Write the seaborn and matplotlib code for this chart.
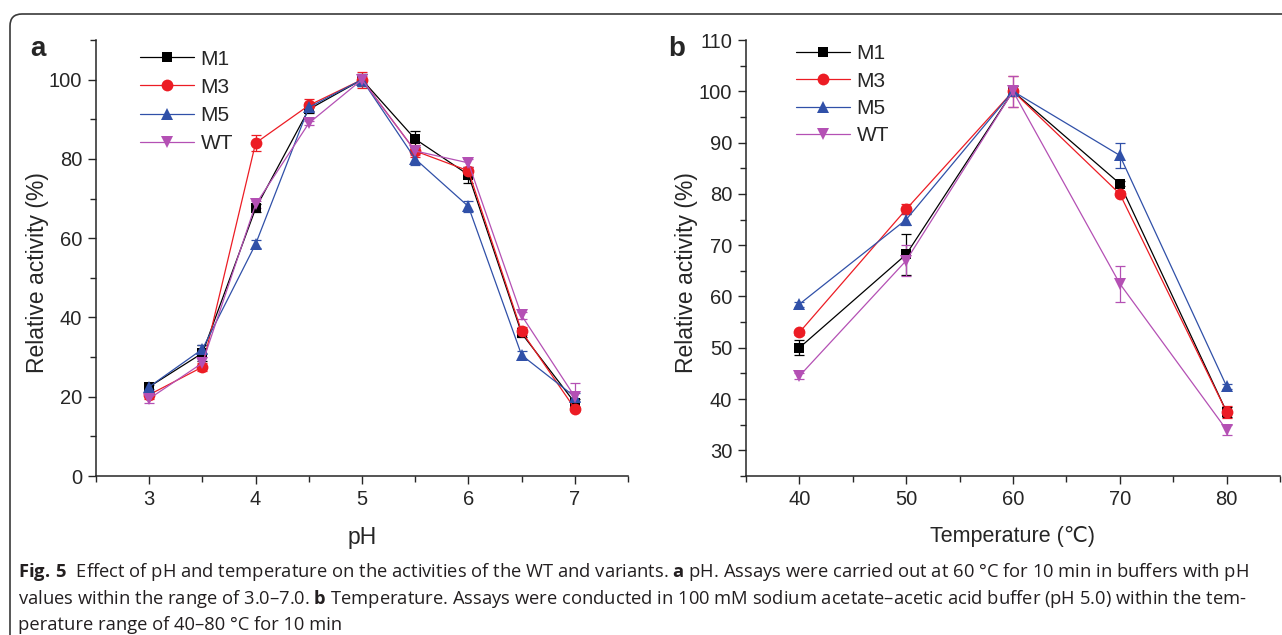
import numpy as np
import pandas as pd
import seaborn as sns
import matplotlib.pyplot as plt
from matplotlib.ticker import MultipleLocator
from matplotlib.lines import Line2D
from matplotlib.patches import FancyBboxPatch

# Dados (atividade relativa, %)
variantes = ['M1', 'M3', 'M5', 'WT']
ph = [3.0, 3.5, 4.0, 4.5, 5.0, 5.5, 6.0, 6.5, 7.0]
ph_m1 = [22.5, 31.0, 67.5, 92.5, 100.0, 85.0, 76.0, 36.0, 18.5]
ph_m3 = [20.5, 27.5, 84.0, 93.5, 100.0, 82.0, 77.0, 36.5, 17.0]
ph_m5 = [22.5, 32.0, 58.5, 93.0, 100.0, 80.0, 68.0, 30.5, 20.0]
ph_wt = [19.5, 28.5, 68.5, 89.0, 100.0, 82.0, 79.0, 40.5, 20.0]
ph_m1_err = [1.0, 2.0, 1.0, 1.0, 1.5, 2.0, 2.0, 1.0, 1.0]
ph_m3_err = [1.0, 1.0, 2.0, 1.5, 2.0, 1.5, 1.0, 1.0, 0.5]
ph_m5_err = [0.5, 1.0, 1.0, 1.0, 1.5, 1.5, 1.5, 1.0, 1.0]
ph_wt_err = [1.0, 1.5, 1.0, 0.5, 1.0, 1.0, 1.0, 1.0, 3.5]

temp = [40, 50, 60, 70, 80]
t_m1 = [50.0, 68.2, 100.0, 82.0, 37.5]
t_m3 = [53.0, 77.0, 100.0, 80.0, 37.5]
t_m5 = [58.5, 75.0, 100.0, 87.5, 42.5]
t_wt = [44.5, 67.0, 100.0, 62.5, 34.0]
t_m1_err = [1.5, 4.0, 1.0, 0.5, 1.0]
t_m3_err = [0.5, 1.0, 3.0, 0.5, 1.2]
t_m5_err = [0.5, 1.0, 0.5, 2.5, 0.5]
t_wt_err = [0.5, 3.0, 3.0, 3.5, 1.0]

cores = {'M1': '#000000', 'M3': '#EC1C24', 'M5': '#3050A8', 'WT': '#B450B4'}
marcadores = {'M1': 's', 'M3': 'o', 'M5': '^', 'WT': 'v'}
tam_marc = {'M1': 7, 'M3': 8.5, 'M5': 8.5, 'WT': 8.5}

legenda_l1 = r'$\mathbf{Fig.\,5}$  Effect of pH and temperature on the activities of the WT and variants. $\mathbf{a}$ pH. Assays were carried out at 60 °C for 10 min in buffers with pH'
legenda_l2 = r'values within the range of 3.0–7.0. $\mathbf{b}$ Temperature. Assays were conducted in 100 mM sodium acetate–acetic acid buffer (pH 5.0) within the tem-'
legenda_l3 = 'perature range of 40–80 °C for 10 min'


def monta_df(x, series, erros):
    linhas = []
    for v, ys, es in zip(variantes, series, erros):
        for xi, yi, ei in zip(x, ys, es):
            linhas.append({'x': xi, 'y': yi, 'err': ei, 'variante': v})
    return pd.DataFrame(linhas)


df_ph = monta_df(ph, [ph_m1, ph_m3, ph_m5, ph_wt], [ph_m1_err, ph_m3_err, ph_m5_err, ph_wt_err])
df_t = monta_df(temp, [t_m1, t_m3, t_m5, t_wt], [t_m1_err, t_m3_err, t_m5_err, t_wt_err])

sns.set_style('ticks')
plt.rcParams['font.family'] = ['Liberation Sans', 'DejaVu Sans']
plt.rcParams['mathtext.fontset'] = 'custom'
plt.rcParams['mathtext.rm'] = 'Open Sans'
plt.rcParams['mathtext.bf'] = 'Open Sans:bold'

fig = plt.figure(figsize=(12.82, 6.35), dpi=100, facecolor='white')
ax_a = fig.add_axes([96 / 1282, 1 - 476 / 635, 532 / 1282, 436 / 635])
ax_b = fig.add_axes([746 / 1282, 1 - 476 / 635, 534 / 1282, 436 / 635])


def desenha(ax, df):
    for v in variantes:
        d = df[df['variante'] == v]
        ax.errorbar(d['x'], d['y'], yerr=d['err'], fmt='none', ecolor=cores[v],
                    elinewidth=0.9, capsize=3.5, capthick=0.9, zorder=2)
    for v in variantes:
        d = df[df['variante'] == v]
        sns.lineplot(data=d, x='x', y='y', ax=ax, color=cores[v], marker=marcadores[v],
                     markersize=tam_marc[v], markeredgewidth=0, linewidth=0.9,
                     errorbar=None, legend=False, zorder=3)
    for s in ['top', 'right']:
        ax.spines[s].set_visible(False)
    for s in ['left', 'bottom']:
        ax.spines[s].set_linewidth(1.1)
    ax.tick_params(which='major', direction='out', length=6, width=1.0, labelsize=14.5, pad=4)
    ax.tick_params(which='minor', direction='out', length=4, width=1.0)
    ax.set_facecolor('white')
    handles = [Line2D([], [], color=cores[v], marker=marcadores[v], markersize=tam_marc[v],
                      markeredgewidth=0, linewidth=0.9) for v in variantes]
    return handles


h = desenha(ax_a, df_ph)
ax_a.set_xlim(2.5, 7.5)
ax_a.set_ylim(0, 110)
ax_a.xaxis.set_major_locator(MultipleLocator(1))
ax_a.xaxis.set_minor_locator(MultipleLocator(0.5))
ax_a.yaxis.set_major_locator(MultipleLocator(20))
ax_a.yaxis.set_minor_locator(MultipleLocator(10))
ax_a.set_yticks([0, 20, 40, 60, 80, 100])
ax_a.set_xlabel('pH', fontsize=16.5, labelpad=12)
ax_a.set_ylabel('Relative activity (%)', fontsize=16.5)
ax_a.yaxis.set_label_coords(-0.088, 0.466)
ax_a.legend(h, variantes, loc='upper left', bbox_to_anchor=(0.083, 0.978), frameon=False,
            fontsize=15, handlelength=2.6, handletextpad=0.3, labelspacing=0.44, borderpad=0,
            borderaxespad=0)

h = desenha(ax_b, df_t)
ax_b.set_xlim(35, 85)
ax_b.set_ylim(25, 110)
ax_b.xaxis.set_major_locator(MultipleLocator(10))
ax_b.xaxis.set_minor_locator(MultipleLocator(5))
ax_b.yaxis.set_major_locator(MultipleLocator(10))
ax_b.yaxis.set_minor_locator(MultipleLocator(5))
ax_b.set_yticks(list(range(30, 111, 10)))
ax_b.set_xlabel('Temperature (℃)', fontsize=15.5, labelpad=12)
ax_b.set_ylabel('Relative activity (%)', fontsize=16.5)
ax_b.yaxis.set_label_coords(-0.089, 0.466)
ax_b.legend(h, variantes, loc='upper left', bbox_to_anchor=(0.094, 0.99), frameon=False,
            fontsize=15, handlelength=2.6, handletextpad=0.3, labelspacing=0.40, borderpad=0,
            borderaxespad=0)

# letras dos paineis
fig.text(30 / 1282, 1 - 56 / 635, 'a', fontsize=20, fontweight='bold')
fig.text(668 / 1282, 1 - 56 / 635, 'b', fontsize=20, fontweight='bold')

# moldura arredondada
moldura = FancyBboxPatch((10, -60), 1400, 635 - 14 + 60, boxstyle='round,pad=0,rounding_size=12',
                         transform=None, facecolor='none', edgecolor='#3a3a3a', linewidth=1.2)
fig.patches.append(moldura)

# legenda da figura
for i, linha in enumerate([legenda_l1, legenda_l2, legenda_l3]):
    fig.text(18 / 1282, 1 - (577 + i * 26.5) / 635, linha, fontsize=13.2, family='Open Sans',
             color='#231f20', va='baseline')

plt.savefig('out.png', dpi=100, facecolor='white')
plt.close()
